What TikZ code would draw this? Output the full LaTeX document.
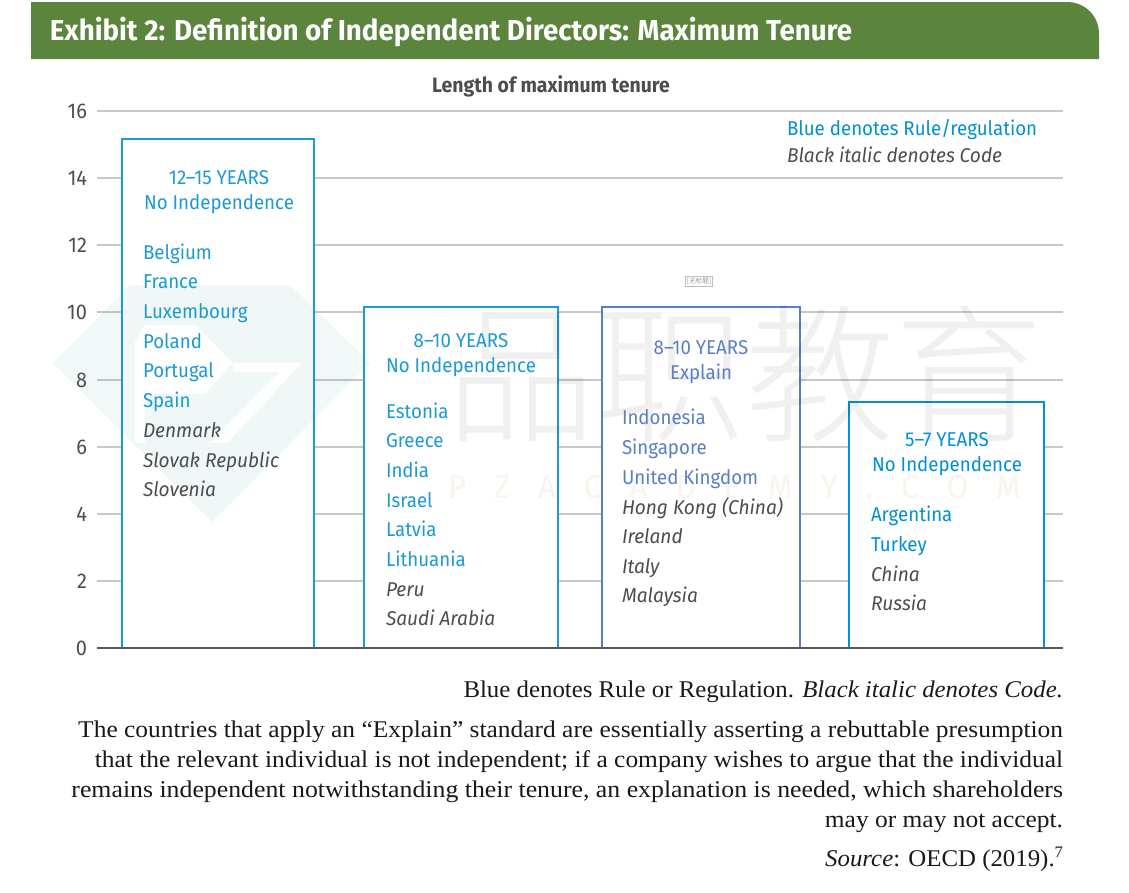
\documentclass[tikz,border=0pt]{standalone}
\usepackage{fontspec}
\setmainfont[FakeStretch=1.06]{Liberation Serif}
\newfontfamily\notealt[FakeStretch=1.035]{Liberation Serif}
\newfontfamily\notewide[FakeStretch=1.075]{Liberation Serif}
\newfontfamily\chartf[FakeStretch=0.935]{Fira Sans}
\newfontfamily\codef[FakeStretch=0.955]{Fira Sans}
\newfontfamily\titlef[FakeStretch=0.963]{Fira Sans}
\IfFontExistsTF{Noto Sans CJK SC Light}{\newfontfamily\cjkf{Noto Sans CJK SC Light}}{\newfontfamily\cjkf{Noto Sans CJK SC}}
\definecolor{hdr}{HTML}{5B843C}
\definecolor{barblue}{HTML}{1B9AD6}
\definecolor{barb}{HTML}{0090D4}
\definecolor{barexp}{HTML}{5B7FC2}
\definecolor{grid}{HTML}{C8C8C8}
\definecolor{axisc}{HTML}{58595B}
\definecolor{ink}{HTML}{4D4D4F}
\definecolor{wm}{HTML}{2FA39A}
\begin{document}
\begin{tikzpicture}[x=0.75pt,y=-0.75pt,
  gridline/.style={draw=grid,line width=1.5pt},
  baraxis/.style={draw=axisc,line width=2.1pt},
  ticklab/.style={anchor=east,font=\chartf\fontsize{16}{18}\selectfont,text=ink},
  barbox/.style={draw=#1,line width=2pt,fill=white},
  head/.style={anchor=base,font=\chartf\fontsize{15}{18}\selectfont,text=#1},
  rule/.style={anchor=base west,font=\chartf\fontsize{15}{18}\selectfont,text=#1},
  code/.style={anchor=base west,font=\codef\fontsize{15}{18}\selectfont\itshape,text=ink},
  note/.style={anchor=base east,font=\fontsize{18}{20}\selectfont,text=black!90},
  inner sep=0pt,outer sep=0pt]
\useasboundingbox (0,0) rectangle (1129,893);
% header
\fill[hdr] (31,59) -- (31,2) -- (1067,2) .. controls (1085,2) and (1099,16) .. (1099,34) -- (1099,59) -- cycle;
\node[anchor=base west,text=white,font=\titlef\bfseries\fontsize{21.6}{25}\selectfont] (title) at (50,40) {Exhibit 2: Definition of Independent Directors: Maximum Tenure};
\node[anchor=base,text=ink,font=\chartf\bfseries\fontsize{15.6}{17}\selectfont] (sub) at (551,92) {Length of maximum tenure};
% grid
\foreach \v/\yy in {16/111,14/178,12/245,10/312,8/380,6/447,4/514,2/581}{
  \draw[gridline] (97,\yy) -- (1063,\yy);
  \node[ticklab] at (87,\yy) {\v};
}
\node[ticklab] at (87,648) {0};
% bars
\path[barbox=barblue] (122,648) -- (122,139) -- (314,139) -- (314,648);
\path[barbox=barblue] (364,648) -- (364,307) -- (558,307) -- (558,648);
\path[barbox=barexp] (602,648) -- (602,307) -- (800,307) -- (800,648);
\path[barbox=barb] (849,648) -- (849,402) -- (1044,402) -- (1044,648);
\draw[baraxis] (97,648) -- (1063,648);
% watermark
\begin{scope}[opacity=0.07]
\fill[wm,even odd rule] (53,363) -- (130,285) -- (290,285) -- (370,363) -- (212,522) -- cycle
  (135,341) -- (135,443) -- (145,443) -- (145,394) -- (205,394) -- (233,363) -- (195,325) -- (145,325) -- cycle
  (233,363) -- (302,363) -- (227,443) -- (210,443) -- (280,372) -- (233,372) -- cycle;
\end{scope}
\node[opacity=0.06,anchor=center,font=\cjkf\fontsize{112}{120}\selectfont,text=black] (wmcn) at (745,374) {品职教育};
\node[opacity=0.09,anchor=base west,font=\chartf\fontsize{25}{28}\selectfont,text=orange!70!wm] (wmen) at (448,498) {P\hspace{21pt}Z\hspace{21pt}A\hspace{21pt}C\hspace{21pt}A\hspace{21pt}D\hspace{21pt}E\hspace{21pt}M\hspace{21pt}Y\hspace{21pt}.\hspace{21pt}C\hspace{21pt}O\hspace{21pt}M};
% tag
\node[draw=black!25,line width=0.4pt,inner sep=1.2pt,font=\cjkf\fontsize{5}{6}\selectfont,text=black!60] (tag) at (699,281) {[无标题]};
% legend
\node[rule=barb] (lega) at (787,135) {Blue denotes Rule/regulation};
\node[code] (legb) at (787,162) {Black italic denotes Code};
% bar 1
\node[head=barblue] at (219,184) {12–15 YEARS};
\node[head=barblue] at (219,209) {No Independence};
\foreach \t/\yy in {Belgium/259,France/288,Luxembourg/318,Poland/348,Portugal/377,Spain/407}
  \node[rule=barblue] at (143,\yy) {\t};
\foreach \t/\yy in {Denmark/437,Slovak Republic/467,Slovenia/496}
  \node[code] at (143,\yy) {\t};
% bar 2
\node[head=barblue] at (461,347) {8–10 YEARS};
\node[head=barblue] at (461,372) {No Independence};
\foreach \t/\yy in {Estonia/418,Greece/447,India/477,Israel/507,Latvia/536,Lithuania/566}
  \node[rule=barblue] at (386,\yy) {\t};
\foreach \t/\yy in {Peru/596,Saudi Arabia/625}
  \node[code] at (386,\yy) {\t};
% bar 3
\node[head=barexp] at (701,354) {8–10 YEARS};
\node[head=barexp] at (701,379) {Explain};
\foreach \t/\yy in {Indonesia/424,Singapore/454,United Kingdom/484}
  \node[rule=barexp] at (622,\yy) {\t};
\foreach \t/\yy in {Hong Kong (China)/514,Ireland/543,Italy/573,Malaysia/602}
  \node[code] at (622,\yy) {\t};
% bar 4
\node[head=barb] at (947,446) {5–7 YEARS};
\node[head=barb] at (947,471) {No Independence};
\foreach \t/\yy in {Argentina/521,Turkey/551}
  \node[rule=barb] at (871,\yy) {\t};
\foreach \t/\yy in {China/581,Russia/610}
  \node[code] at (871,\yy) {\t};
% notes
\node[note] at (1063,697) {\notealt Blue denotes Rule or Regulation. \textit{Black italic denotes Code.}};
\node[note] at (1063,737) {The countries that apply an “Explain” standard are essentially asserting a rebuttable presumption};
\node[note] at (1063,767) {that the relevant individual is not independent; if a company wishes to argue that the individual};
\node[note] at (1063,797) {\notewide remains independent notwithstanding their tenure, an explanation is needed, which shareholders};
\node[note] at (1063,827) {may or may not accept.};
\node[note] at (1063,866) {\notealt\textit{Source}: OECD (2019).\raisebox{6.5pt}{\fontsize{12}{14}\selectfont 7}};
\end{tikzpicture}
\end{document}
